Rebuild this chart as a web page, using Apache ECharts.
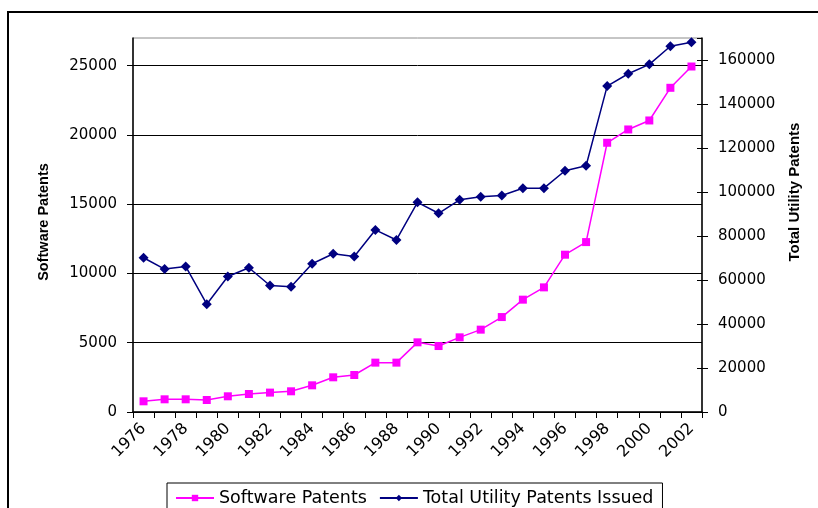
<!DOCTYPE html>
<html>
<head>
<meta charset="utf-8">
<script src="https://cdn.jsdelivr.net/npm/echarts@6/dist/echarts.min.js"></script>
<style>
  html, body { margin: 0; padding: 0; background: #fff; }
  #container { width: 818px; height: 508px; }
</style>
</head>
<body>
<div id="container"></div>
<script>
// years on the category axis
let years = [];
for (let y = 1976; y <= 2002; y++) years.push(String(y));

// values
let softwarePatents = [772, 916, 916, 866, 1133, 1299, 1400, 1494, 1926, 2504, 2670, 3564, 3564, 5029,
    4762, 5390, 5945, 6854, 8110, 8997, 11356, 12266, 19437, 20397, 21046, 23405, 24942];
let totalUtility = [70119, 64964, 66150, 48996, 61588, 65556, 57482, 56888, 67381, 71943, 70712, 82755, 78193, 95300,
    90328, 96442, 97810, 98403, 101734, 101734, 109672, 111953, 148130, 153741, 158029, 166241, 168065];

let labelFont = 'DejaVu Sans';
let titleFont = 'Liberation Sans';
let plain = (v) => String(v);

let dom = document.getElementById('container');
let chart = echarts.init(dom, null, {renderer: 'canvas'});

chart.setOption({
    animation: false,
    backgroundColor: '#fff',
    grid: {
        left: 133, right: 116, top: 38, bottom: 96,
        show: true, borderColor: '#8c8c8c', borderWidth: 1, backgroundColor: 'transparent'
    },
    legend: {
        left: 167, top: 483,
        padding: [6, 9, 20, 8],
        borderColor: '#000', borderWidth: 1,
        itemWidth: 38, itemHeight: 8, itemGap: 12,
        textStyle: {fontFamily: labelFont, fontSize: 17.5, color: '#000'},
        data: ['Software Patents', 'Total Utility Patents Issued']
    },
    xAxis: {
        type: 'category',
        data: years,
        axisLine: {lineStyle: {color: '#000', width: 1.5}},
        axisTick: {show: true, interval: 0, length: 6, lineStyle: {color: '#000'}},
        axisLabel: {interval: 1, rotate: 45, margin: 14, fontFamily: labelFont, fontSize: 16, color: '#000'},
        splitLine: {show: false}
    },
    yAxis: [{
        type: 'value',
        min: 0, max: 27000, interval: 5000,
        position: 'left',
        axisLine: {show: true, lineStyle: {color: '#000', width: 1.5}},
        axisTick: {show: true, length: 6, lineStyle: {color: '#000'}},
        axisLabel: {margin: 16, showMaxLabel: false, formatter: plain, fontFamily: labelFont, fontSize: 15, color: '#000'},
        splitLine: {show: true, showMaxLine: false, lineStyle: {color: '#000', width: 1}}
    }, {
        type: 'value',
        min: 0, max: 170000, interval: 20000,
        position: 'right',
        axisLine: {show: true, lineStyle: {color: '#000', width: 1.5}},
        axisTick: {show: true, length: 6, lineStyle: {color: '#000'}},
        axisLabel: {margin: 16, showMaxLabel: false, formatter: plain, fontFamily: labelFont, fontSize: 15, color: '#000'},
        splitLine: {show: false}
    }, {
        // inner half of the crossing ticks on the right axis
        type: 'value',
        min: 0, max: 170000, interval: 20000,
        position: 'right',
        axisLine: {show: false},
        axisTick: {show: true, inside: true, length: 5, lineStyle: {color: '#000'}},
        axisLabel: {show: false},
        splitLine: {show: false}
    }],
    graphic: [{
        type: 'rect',
        shape: {x: 8, y: 12, width: 900, height: 600},
        style: {fill: null, stroke: '#000', lineWidth: 2},
        silent: true, z: -1
    }, {
        type: 'text',
        x: 44, y: 222, rotation: Math.PI / 2,
        style: {text: 'Software Patents', fontFamily: titleFont, fontWeight: 'bold', fontSize: 14.5,
            fill: '#000', align: 'center', verticalAlign: 'middle'}
    }, {
        type: 'text',
        x: 795, y: 192, rotation: Math.PI / 2,
        style: {text: 'Total Utility Patents', fontFamily: titleFont, fontWeight: 'bold', fontSize: 15,
            fill: '#000', align: 'center', verticalAlign: 'middle'}
    }],
    series: [{
        name: 'Software Patents',
        type: 'line',
        yAxisIndex: 0,
        data: softwarePatents,
        symbol: 'rect',
        symbolSize: 8,
        lineStyle: {color: '#ff00ff', width: 1.5},
        itemStyle: {color: '#ff00ff'}
    }, {
        name: 'Total Utility Patents Issued',
        type: 'line',
        yAxisIndex: 1,
        data: totalUtility,
        symbol: 'diamond',
        symbolSize: 10,
        lineStyle: {color: '#000080', width: 1.5},
        itemStyle: {color: '#000080'}
    }]
});
</script>
</body>
</html>
